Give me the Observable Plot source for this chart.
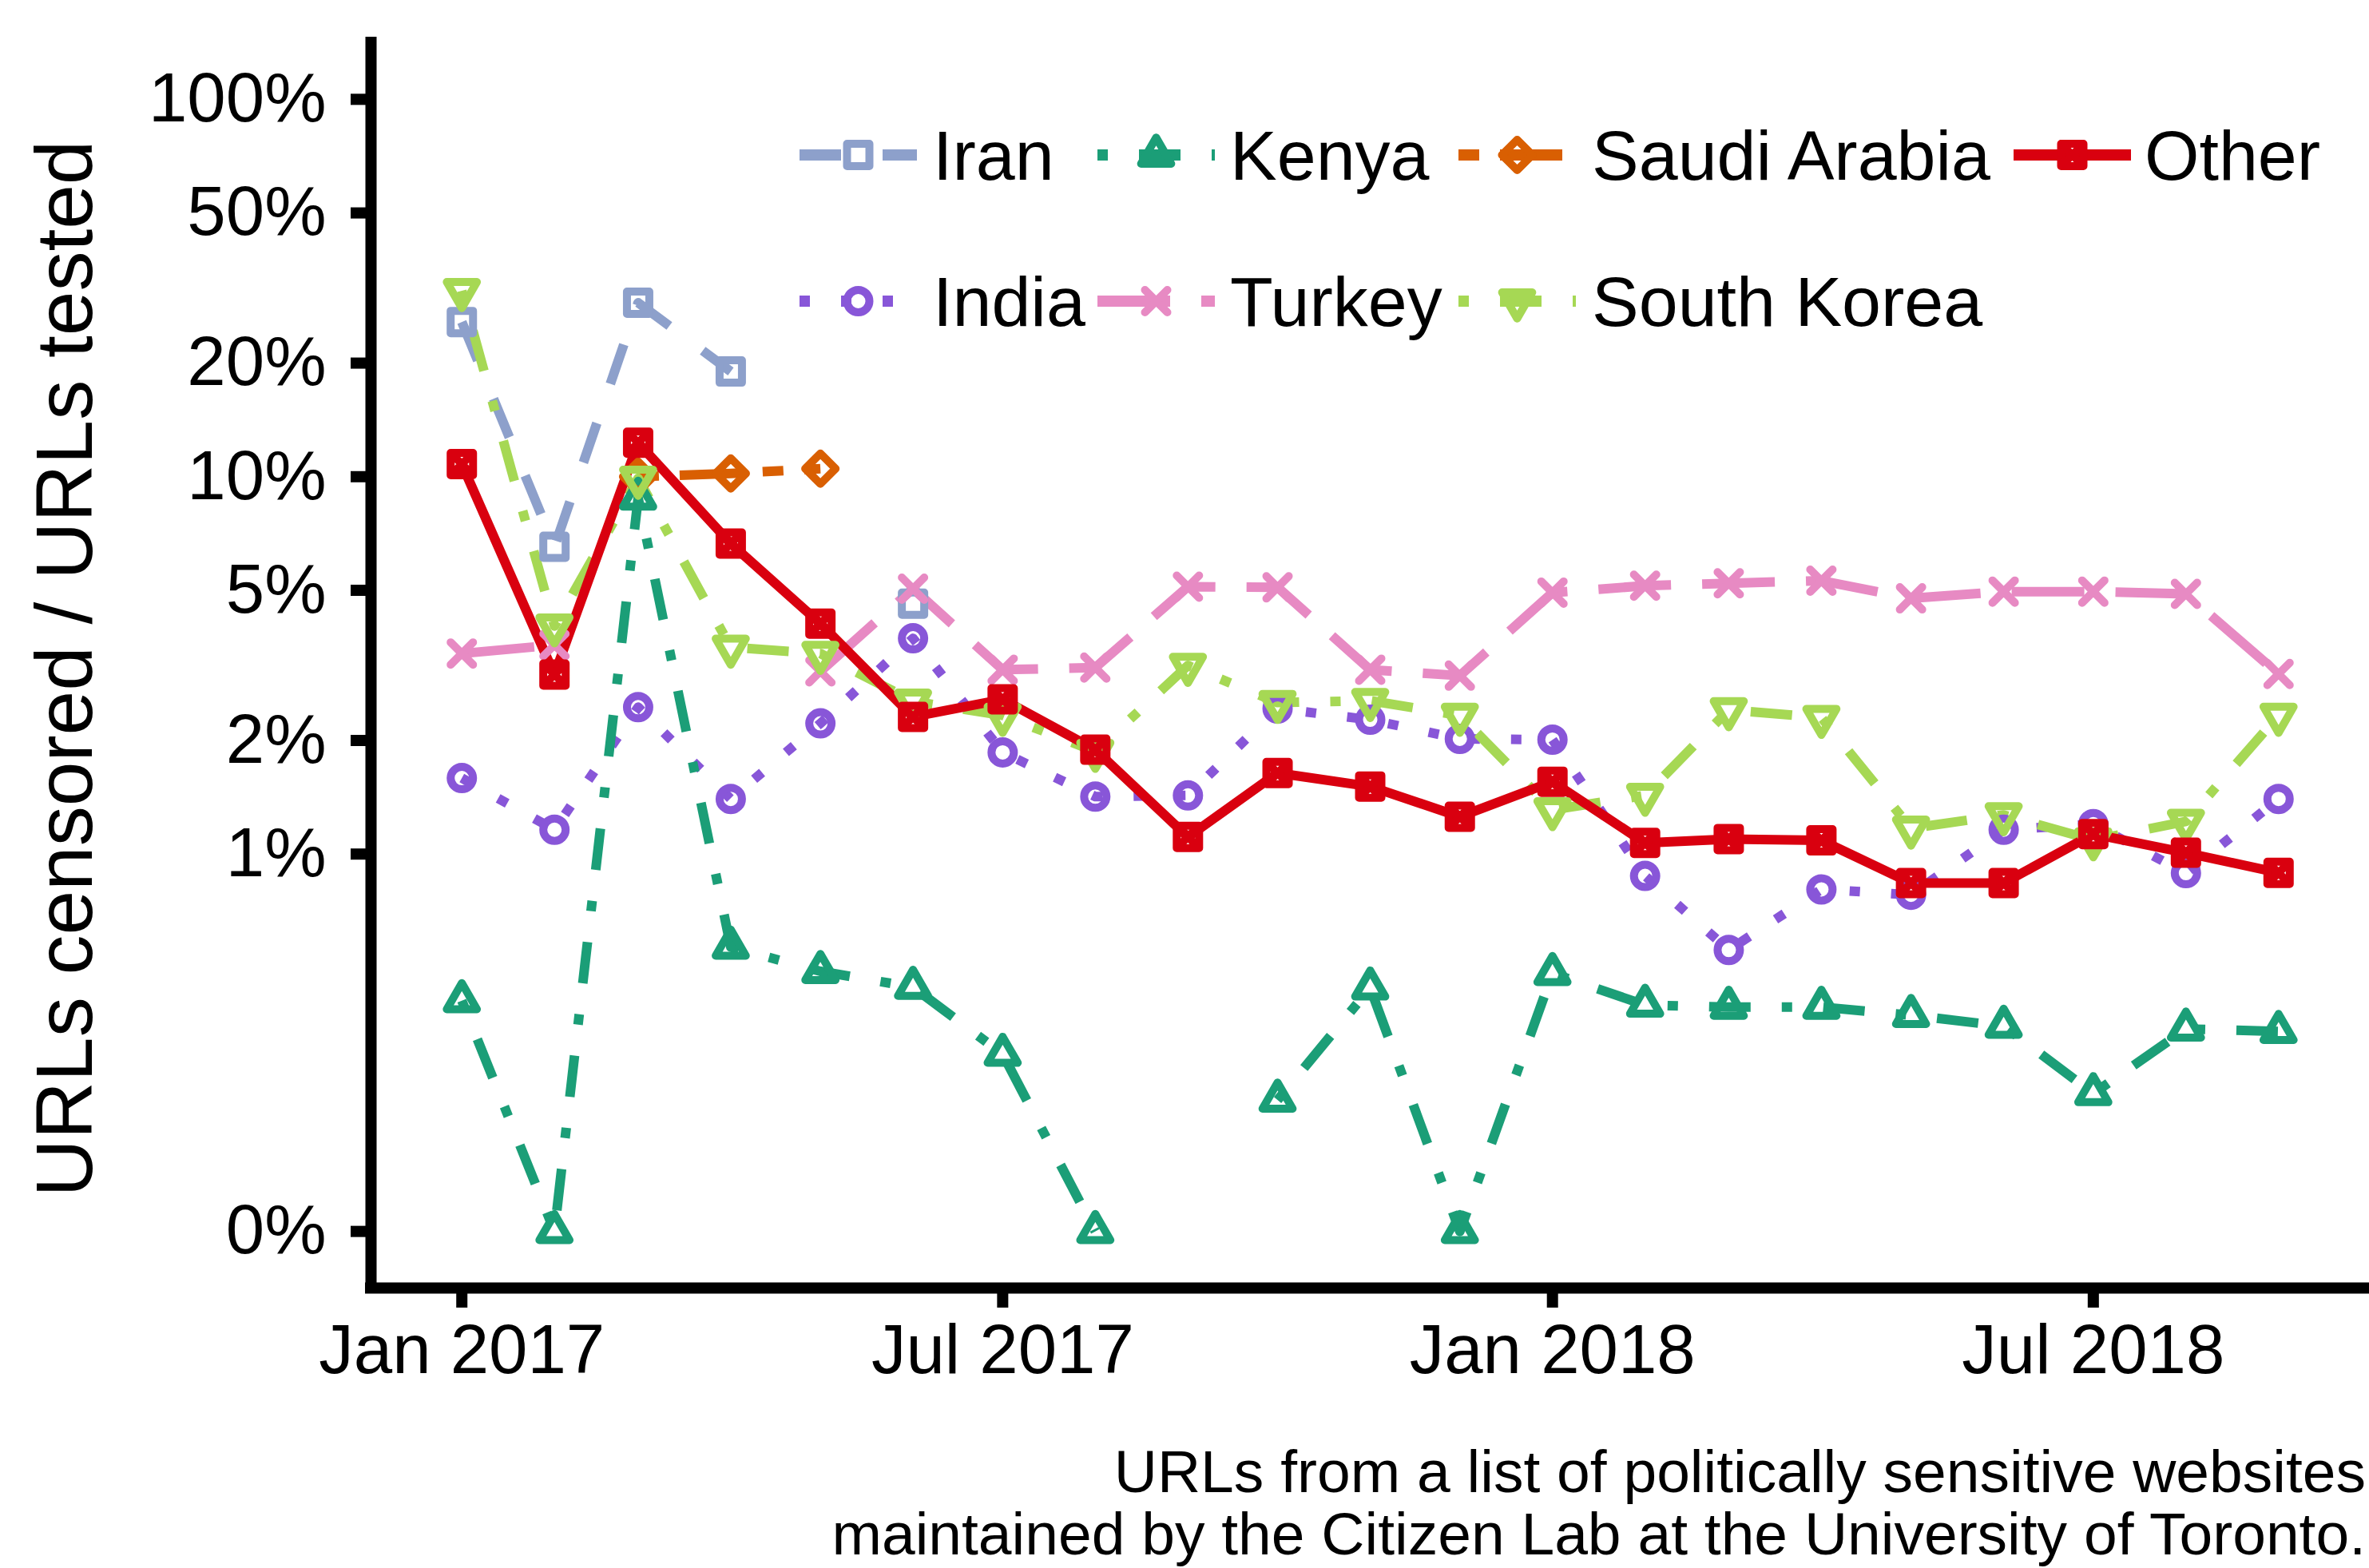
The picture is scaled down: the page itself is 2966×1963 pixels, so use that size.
<!DOCTYPE html>
<html><head><meta charset="utf-8">
<script src="https://cdn.jsdelivr.net/npm/d3@7"></script>
<script src="https://cdn.jsdelivr.net/npm/@observablehq/plot@0.6"></script>
<style>
body{margin:0;background:#fff;}
#wrap{position:relative;width:2966px;height:1963px;overflow:hidden;font-family:"Liberation Sans",Arial,sans-serif;background:#fff;}
#overlay{position:absolute;left:0;top:0;pointer-events:none;}
</style></head>
<body><div id="wrap"><div id="chart"></div><svg id="overlay" width="2966" height="1963"></svg></div>
<script>
// ---- data (percent of URLs censored; null = not measured) ----
const months = ["2017-01","2017-02","2017-03","2017-04","2017-05","2017-06","2017-07","2017-08","2017-09","2017-10","2017-11","2017-12",
                "2018-01","2018-02","2018-03","2018-04","2018-05","2018-06","2018-07","2018-08","2018-09"];
const iran       = [25.7, 6.52, 28.9, 19.0, null, 4.61, null, null, null, null, null, null, null, null, null, null, null, null, null, null, null];
const india      = [1.59, 1.16, 2.45, 1.40, 2.22, 3.73, 1.86, 1.42, 1.43, 2.43, 2.27, 2.02, 2.01, 0.875, 0.557, 0.806, 0.78, 1.16, 1.20, 0.89, 1.40];
const kenya      = [0.409, 0, 8.78, 0.567, 0.489, 0.444, 0.295, 0, null, 0.223, 0.442, 0, 0.483, 0.398, 0.393, 0.393, 0.374, 0.35, 0.232, 0.344, 0.339];
const turkey     = [3.40, 3.58, null, null, 3.05, 5.05, 3.08, 3.12, 5.11, 5.09, 3.08, 2.97, 4.93, 5.14, 5.22, 5.30, 4.76, 4.96, 4.96, 4.89, 3.00];
const saudi      = [null, null, 10.0, 10.2, 10.5, null, null, null, null, null, null, null, null, null, null, null, null, null, null, null, null];
const southKorea = [31.1, 4.02, 9.9, 3.53, 3.40, 2.54, 2.33, 1.87, 3.16, 2.52, 2.55, 2.33, 1.31, 1.43, 2.41, 2.30, 1.17, 1.27, 1.09, 1.22, 2.33];
const other      = [10.8, 2.99, 12.3, 6.65, 4.08, 2.31, 2.57, 1.89, 1.11, 1.64, 1.51, 1.256, 1.555, 1.07, 1.096, 1.087, 0.838, 0.838, 1.13, 1.008, 0.892];

const yTickValues = [0, 1, 2, 5, 10, 20, 50, 100];
const yTickLabels = ["0%", "1%", "2%", "5%", "10%", "20%", "50%", "100%"];
const xTickMonths = ["2017-01", "2017-07", "2018-01", "2018-07"];
const xTickLabels = ["Jan 2017", "Jul 2017", "Jan 2018", "Jul 2018"];
const yTitle = "URLs censored / URLs tested";
const captionLines = ["URLs from a list of politically sensitive websites",
                      "maintained by the Citizen Lab at the University of Toronto."];

// ---- helpers ----
const FONT = '"Liberation Sans", Arial, sans-serif';
const toDate = m => new Date(m + "-01T00:00:00Z");
const toY = v => (v == null ? NaN : v === 0 ? 0.001 : v / 100); // 0% drawn at the 0.1% floor of the log axis

function sym(fn){ return {draw(ctx, size){ const r = Math.sqrt(size/Math.PI); fn(ctx, r); }}; }
const SQUARE = sym((c,r)=>{c.moveTo(-r,-r);c.lineTo(r,-r);c.lineTo(r,r);c.lineTo(-r,r);c.closePath();});
const CIRCLE = sym((c,r)=>{c.moveTo(r,0);c.arc(0,0,r,0,2*Math.PI);});
const TRI_UP = sym((c,r)=>{const s=r*1.555,xc=r*1.3468,yc=r*0.7775;c.moveTo(0,-s);c.lineTo(xc,yc);c.lineTo(-xc,yc);c.closePath();});
const TRI_DN = sym((c,r)=>{const s=r*1.555,xc=r*1.3468,yc=r*0.7775;c.moveTo(0,s);c.lineTo(xc,-yc);c.lineTo(-xc,-yc);c.closePath();});
const DIAMOND = sym((c,r)=>{const d=r*1.36;c.moveTo(0,-d);c.lineTo(d,0);c.lineTo(0,d);c.lineTo(-d,0);c.closePath();});
const TIMES = sym((c,r)=>{c.moveTo(-r,-r);c.lineTo(r,r);c.moveTo(-r,r);c.lineTo(r,-r);});
const SQCROSS = sym((c,r)=>{c.moveTo(-r,-r);c.lineTo(r,-r);c.lineTo(r,r);c.lineTo(-r,r);c.closePath();c.moveTo(-r,-r);c.lineTo(r,r);c.moveTo(-r,r);c.lineTo(r,-r);});

const U = 13; // dash unit
const series = [
  {name:"Iran",         values: iran,       color:"#8DA0CB", dash:[4*U,4*U].join(","),            symbol: SQUARE},
  {name:"India",        values: india,      color:"#8856D8", dash:[1*U,3*U].join(","),            symbol: CIRCLE},
  {name:"Kenya",        values: kenya,      color:"#1B9E77", dash:[1*U,3*U,4*U,3*U].join(","),    symbol: TRI_UP},
  {name:"Turkey",       values: turkey,     color:"#E78AC3", dash:[7*U,3*U].join(","),            symbol: TIMES},
  {name:"Saudi Arabia", values: saudi,      color:"#D95F02", dash:[2*U,2*U,6*U,2*U].join(","),    symbol: DIAMOND},
  {name:"South Korea",  values: southKorea, color:"#A6D854", dash:[1*U,3*U,4*U,3*U].join(","),    symbol: TRI_DN},
  {name:"Other",        values: other,      color:"#D9000F", dash:null,                           symbol: SQCROSS}
];
const rowsOf = s => months.map((m,i)=>({date: toDate(m), y: toY(s.values[i]), country: s.name}));

const DAY = 86400000;
const xDomain = [new Date(+toDate("2017-01") - 30.4*DAY), new Date(+toDate("2018-09") + 30.4*DAY)];
const yDomain = [Math.pow(10,-3.15), Math.pow(10,0.15)];
const yTickPos = yTickValues.map(toY);
const yLabelMap = new Map(yTickPos.map((p,i)=>[p, yTickLabels[i]]));
const xTickDates = xTickMonths.map(toDate);
const xLabelMap = new Map(xTickDates.map((d,i)=>[+d, xTickLabels[i]]));

const W = 2966, H = 1780, MT = 53, MB = H - 1612, ML = 464;
const LW = 12, PW = 10, PR = 14;

const chart = Plot.plot({
  width: W, height: H,
  marginTop: MT, marginBottom: MB, marginLeft: ML, marginRight: 0,
  style: {fontFamily: FONT, fontSize: "87px", color: "#000", background: "#fff"},
  x: {type: "utc", domain: xDomain},
  y: {type: "log", domain: yDomain},
  marks: [
    ...series.map(s => Plot.line(rowsOf(s), {x:"date", y:"y", stroke: s.color, strokeWidth: LW,
        strokeDasharray: s.dash || undefined, strokeLinecap: "butt", strokeLinejoin: "round"})),
    ...series.map(s => Plot.dot(rowsOf(s), {x:"date", y:"y", stroke: s.color, fill: "none", strokeWidth: PW,
        r: PR, symbol: s.symbol, strokeLinejoin: "round", strokeLinecap: "round"})),
    Plot.ruleX([xDomain[0]], {stroke: "#000", strokeWidth: 14, strokeLinecap: "square"}),
    Plot.ruleY([yDomain[0]], {stroke: "#000", strokeWidth: 14, strokeLinecap: "square"}),
    Plot.axisY(yTickPos, {tickSize: 25, tickPadding: 31, strokeWidth: 14, fontSize: 87,
        tickFormat: d => yLabelMap.get(d), label: null}),
    Plot.axisX(xTickDates, {tickSize: 25, tickPadding: 20, strokeWidth: 14, fontSize: 87,
        tickFormat: d => xLabelMap.get(+d), label: null})
  ]
});
document.getElementById("chart").appendChild(chart);

// ---- overlay: legend, y title, caption ----
const ov = d3.select("#overlay");
ov.append("text").attr("transform", "translate(115,837) rotate(-90)")
  .attr("text-anchor","middle").attr("font-family", FONT).attr("font-size", 100).attr("fill","#000").text(yTitle);

const legendLayout = [
  {name:"Iran", col:0, row:0}, {name:"Kenya", col:1, row:0}, {name:"Saudi Arabia", col:2, row:0}, {name:"Other", col:3, row:0},
  {name:"India", col:0, row:1}, {name:"Turkey", col:1, row:1}, {name:"South Korea", col:2, row:1}
];
const keyX = [1001, 1374, 1826, 2521], labelX = [1168, 1540, 1993, 2685], rowY = [194, 377], KW = 147;
for (const item of legendLayout) {
  const s = series.find(d => d.name === item.name);
  const x0 = keyX[item.col], y0 = rowY[item.row];
  const g = ov.append("g");
  g.append("line").attr("x1", x0).attr("x2", x0 + KW).attr("y1", y0).attr("y2", y0)
    .attr("stroke", s.color).attr("stroke-width", 14).attr("stroke-dasharray", s.dash || null).attr("stroke-linecap","butt");
  const p = d3.path(); s.symbol.draw(p, Math.PI*PR*PR);
  g.append("path").attr("d", p.toString()).attr("transform", `translate(${x0 + KW/2},${y0})`)
    .attr("fill","none").attr("stroke", s.color).attr("stroke-width", PW).attr("stroke-linejoin","round").attr("stroke-linecap","round");
  g.append("text").attr("x", labelX[item.col]).attr("y", y0 + 31).attr("font-family", FONT).attr("font-size", 88)
    .attr("fill","#000").text(item.name);
}
captionLines.forEach((t,i)=>{
  ov.append("text").attr("x", 2962).attr("y", 1868 + i*78).attr("text-anchor","end")
    .attr("font-family", FONT).attr("font-size", 75).attr("fill","#000").text(t);
});
</script></body></html>
